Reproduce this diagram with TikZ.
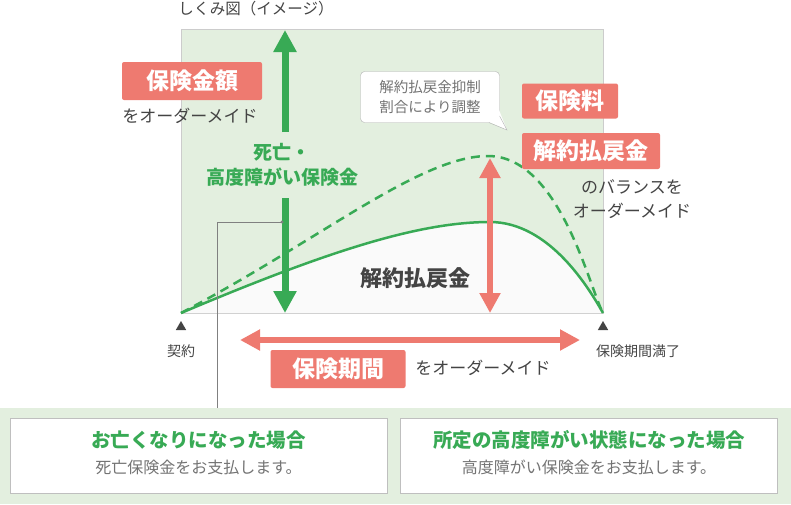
\documentclass[tikz,border=0pt]{standalone}
\usepackage{fontspec}
\setmainfont{Noto Sans CJK JP}
\usetikzlibrary{arrows.meta,shapes.geometric}
\definecolor{gr}{HTML}{38AA55}
\definecolor{rd}{HTML}{EE7A70}
\definecolor{pale}{HTML}{E3EFDF}
\definecolor{txt}{HTML}{444444}
\tikzset{
 redbox/.style={fill=rd,rounded corners=2pt,text=white,font=\fontsize{23}{25}\selectfont\bfseries,inner sep=0pt},
 dark/.style={text=txt,font=\fontsize{17}{19}\selectfont},
 small/.style={text=txt,font=\fontsize{14}{16}\selectfont},
 fatarrow/.style={line width=7pt,-{Triangle[width=22pt,length=22pt]}},
 wbox/.style={draw=black!25,fill=white,line width=0.8pt,minimum width=377pt,minimum height=75pt},
 tri/.style={fill=txt,regular polygon,regular polygon sides=3,minimum size=12pt,inner sep=0pt},
}
\begin{document}
\begin{tikzpicture}[x=1pt,y=-1pt]
\useasboundingbox (0,0) rectangle (791,504);
% panel
\node[draw=black!20,fill=pale,line width=1pt,minimum width=422pt,minimum height=284pt,inner sep=0pt] (panel) at (392,171) {};
\fill[black!2!white] (181,313) .. controls (330,250) and (420,222) .. (490,222) .. controls (550,222) and (590,290) .. (603,313) -- cycle;
\draw[gr,line width=2.5pt] (181,313) .. controls (330,250) and (420,222) .. (490,222) .. controls (550,222) and (590,290) .. (603,313);
\draw[gr,line width=2.5pt,dash pattern=on 9pt off 6pt] (181,313) .. controls (320,240) and (420,156) .. (488,156) .. controls (560,156) and (590,290) .. (603,313);
\node[dark,font=\fontsize{15.5}{17}\selectfont] (title) at (256,9) {しくみ図（イメージ）};
% green arrow
\coordinate (gtop) at (285,30); \coordinate (gbot) at (285,313);
\coordinate (g1) at (285,132); \coordinate (g2) at (285,198);
\draw[gr,fatarrow] (g1) -- (gtop);
\draw[gr,fatarrow] (g2) -- (gbot);
\node[text=gr,font=\fontsize{19}{25}\selectfont\bfseries,align=center] (glab) at (282,165) {死亡・\\高度障がい保険金};
% leader
\coordinate (l1) at (282,222); \coordinate (l2) at (217,222); \coordinate (l3) at (217,408);
\draw[black!50,line width=0.8pt] (l1) -- (l2) -- (l3);
\fill[black!50] (l1) circle (1.6pt);
% left labels
\node[redbox,minimum width=140pt,minimum height=38pt] (amt) at (192,81) {保険金額};
\node[dark] (amt2) at (190,116) {をオーダーメイド};
% callout
\node[draw=black!30,fill=white,rounded corners=4pt,minimum width=139pt,minimum height=51pt,align=center,text=black!55,font=\fontsize{14.5}{20}\selectfont] (call) at (430,97) {解約払戻金抑制\\割合により調整};
\coordinate (ct) at (507,130);
\fill[white] (488,121.5) -- (ct) -- (499,110) -- cycle;
\draw[black!30] (489,122.6) -- (ct) -- (499.6,116);
% red vertical arrow
\coordinate (rt) at (490,158); \coordinate (rb) at (490,313);
\draw[rd,line width=6pt,{Triangle[width=20pt,length=20pt]}-{Triangle[width=20pt,length=20pt]}] (rt) -- (rb);
\node[dark,font=\fontsize{22}{24}\selectfont\bfseries] (kai) at (415,278) {解約払戻金};
% right labels
\node[redbox,minimum width=96pt,minimum height=35pt] (prem) at (570,101) {保険料};
\node[redbox,minimum width=138pt,minimum height=36pt] (sur) at (591,151) {解約払戻金};
\node[dark,align=center,font=\fontsize{17}{24}\selectfont] (bal) at (632,199) {のバランスを\\オーダーメイド};
% timeline
\node[tri] (t1) at (181,327) {};
\node[tri] (t2) at (603,327) {};
\node[small] (k) at (181,351) {契約};
\node[small] (m) at (638,351) {保険期間満了};
\coordinate (ha) at (240,340); \coordinate (hb) at (580,340);
\draw[rd,line width=6pt,{Triangle[width=20pt,length=20pt]}-{Triangle[width=20pt,length=20pt]}] (ha) -- (hb);
\node[redbox,minimum width=135pt,minimum height=38pt] (per) at (338,369) {保険期間};
\node[dark] (per2) at (483,368) {をオーダーメイド};
% bottom band
\fill[pale] (0,408) rectangle (791,504);
\node[wbox] (b1) at (198.5,455.5) {};
\node[wbox] (b2) at (589,455.5) {};
\node[text=gr,font=\fontsize{19.5}{21}\selectfont\bfseries] (b1a) at (198.5,440) {お亡くなりになった場合};
\node[text=black!55,font=\fontsize{16}{18}\selectfont] (b1b) at (198.5,467) {死亡保険金をお支払します。};
\node[text=gr,font=\fontsize{19.5}{21}\selectfont\bfseries] (b2a) at (589,440) {所定の高度障がい状態になった場合};
\node[text=black!55,font=\fontsize{16}{18}\selectfont] (b2b) at (589,467) {高度障がい保険金をお支払します。};
\end{tikzpicture}
\end{document}
